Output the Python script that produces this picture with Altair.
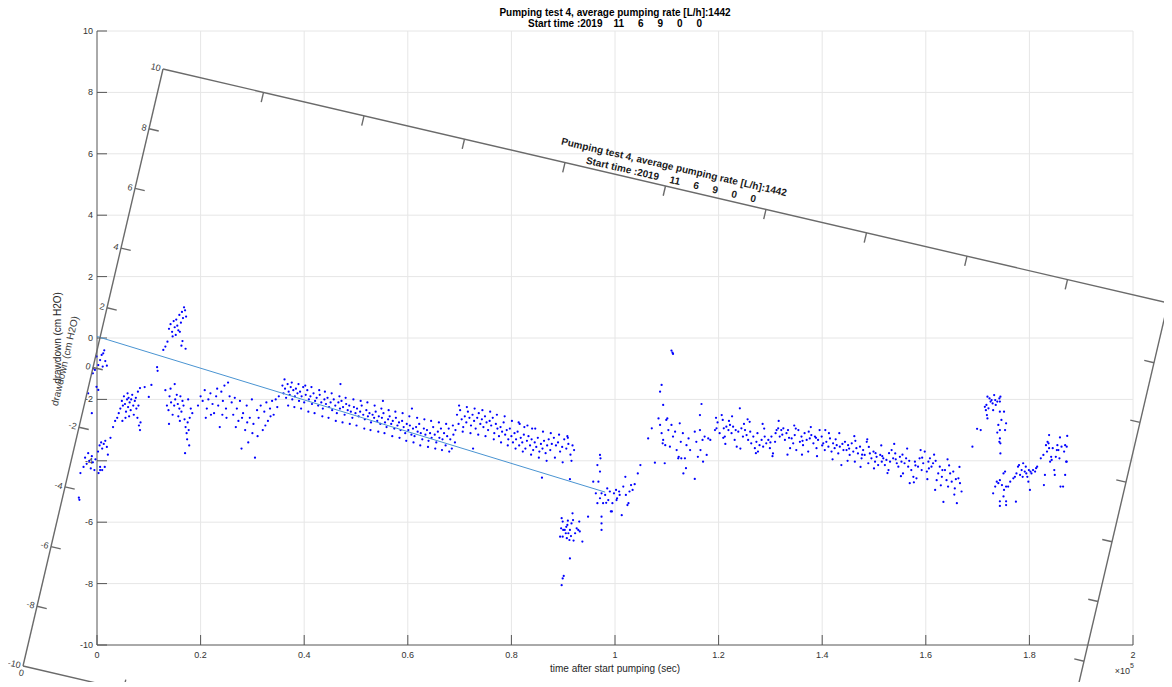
import altair as alt
import pandas as pd

# ---------------- data: time after start (kilo-seconds), drawdown (cm H2O) ----------------
seg_start = [(-3.5, -5.2), (-3.4, -5.27), (-3.2, -4.4), (-2.6, -4.2), (-2.3, -3.9), (-2.0, -4.1),
             (-1.7, -3.75), (-1.5, -4.0), (-1.2, -4.25), (-1.0, -3.85), (-0.8, -4.05), (-0.5, -4.3),
             (-0.3, -3.95), (0.2, -3.7), (0.5, -3.5), (0.8, -3.4), (1.0, -3.6), (1.3, -3.45),
             (1.6, -3.35), (1.9, -3.55), (2.1, -3.8), (0.3, -4.4), (0.6, -4.3), (1.5, -4.2),
             (0.6, -4.2), (1.0, -4.3), (-1.7, -1.8), (-1.0, -2.45), (-0.1, -1.59), (0.25, -1.69),
             (-0.1, -0.6), (0.6, -0.72), (0.9, -0.55), (-0.7, -0.99), (-0.4, -1.04), (0.25, -0.88),
             (1.1, -0.93), (-0.8, -1.15), (1.2, -0.5), (1.4, -0.4), (1.6, -0.75), (1.9, -0.9)]

seg_early = [(2.6, -3.25), (3.1, -2.9), (3.5, -2.7), (3.9, -2.6), (4.2, -2.45),
             (4.5, -2.3), (4.8, -2.05), (5.0, -2.2), (5.2, -1.9), (5.4, -2.15), (5.6, -2.4), (5.8, -2.0),
             (6.0, -2.25), (6.1, -1.95), (6.3, -2.1), (6.5, -2.35), (6.6, -2.0), (6.8, -1.85), (7.0, -2.2),
             (7.1, -2.5), (7.3, -2.05), (7.5, -1.95), (7.6, -2.3), (7.8, -2.6), (8.0, -2.2), (8.1, -2.85),
             (8.3, -3.0), (8.4, -2.75), (5.5, -2.6), (6.2, -2.55), (4.9, -2.7), (7.9, -1.75), (5.9, -1.8),
             (8.3, -1.63), (9.2, -1.6), (10.5, -1.53), (10.0, -1.92), (11.6, -0.95), (11.7, -1.07),
             (12.8, -0.39), (13.2, -0.28), (13.6, -0.12)]

seg_peak = [(13.9, 0.3), (14.2, 0.45), (14.5, 0.2), (14.8, 0.55), (15.0, 0.35), (15.3, 0.6), (15.5, 0.4),
            (15.7, 0.25), (15.9, 0.75), (16.2, 0.5), (16.4, 0.85), (16.6, 0.65), (16.8, 1.0), (17.0, 0.9),
            (17.2, 0.7), (15.2, 0.1), (16.0, 0.2), (16.5, -0.1), (17.1, -0.35), (16.3, -0.25), (14.6, 0.05),
            (13.2, -1.7), (13.5, -2.2), (13.8, -2.35), (14.0, -1.9), (14.3, -2.1), (14.6, -2.5), (14.9, -2.2),
            (15.1, -2.0), (15.4, -1.85), (15.6, -2.15), (15.9, -2.3), (16.1, -1.9), (16.3, -2.4), (16.5, -2.05),
            (16.7, -2.2), (16.9, -2.65), (17.1, -2.9), (17.3, -3.1), (17.5, -2.75), (17.7, -3.0), (17.9, -2.6),
            (18.1, -2.3), (15.0, -1.5), (16.0, -2.7), (13.9, -2.8), (17.0, -3.75), (17.6, -2.0), (18.4, -2.45),
            (15.7, -2.55), (14.2, -1.65), (17.4, -3.3), (17.8, -3.5)]

seg_wave = [(19.5, -2.2), (20.0, -1.9), (20.4, -2.05), (20.8, -1.7), (21.2, -2.3), (21.5, -2.0), (21.9, -1.8),
            (22.3, -2.15), (22.6, -2.45), (23.0, -1.9), (23.4, -2.2), (23.7, -2.9), (24.0, -1.75), (24.3, -2.05),
            (24.6, -1.55), (24.9, -2.3), (25.3, -1.45), (25.6, -1.9), (26.0, -2.1), (26.3, -2.5), (26.6, -1.95),
            (27.0, -2.3), (27.3, -2.7), (27.6, -2.05), (27.9, -3.6), (28.2, -2.45), (28.6, -3.0), (28.9, -2.2),
            (29.2, -3.4), (29.5, -2.6), (29.9, -2.0), (30.2, -2.8), (30.5, -3.9), (30.9, -2.35), (31.2, -2.6),
            (31.6, -2.2), (32.0, -3.0), (32.3, -2.4), (32.7, -2.1), (33.0, -2.7), (33.4, -2.3), (33.8, -2.05),
            (34.1, -2.5), (34.5, -2.0), (34.8, -2.25), (35.1, -1.9), (21.0, -2.6), (22.0, -2.5), (25.0, -2.6),
            (26.8, -2.9), (28.0, -2.6), (30.0, -3.1), (31.0, -3.2), (32.5, -2.85), (29.0, -2.75), (24.2, -2.5),
            (33.5, -2.55), (23.2, -1.65)]

seg_decline = [(35.8, -1.55), (36.0, -1.8), (36.3, -1.65), (36.5, -1.95), (36.8, -1.5), (37.0, -1.75),
               (37.2, -1.85), (37.4, -1.6), (37.7, -2.0), (37.9, -1.7), (38.2, -1.9), (38.4, -1.65), (38.7, -1.8),
               (39.0, -2.05), (39.2, -1.75), (39.5, -1.9), (39.8, -1.6), (40.0, -2.1), (40.3, -1.85), (40.6, -1.7),
               (40.9, -2.0), (41.2, -1.9), (41.5, -2.15), (41.8, -1.8), (42.1, -2.05), (42.4, -1.95), (42.7, -2.2),
               (43.0, -1.85), (43.3, -2.1), (43.6, -2.3), (43.9, -2.0), (44.2, -2.15), (44.5, -1.95), (44.8, -2.25),
               (45.1, -2.1), (45.4, -2.35), (45.7, -2.0), (46.0, -2.2), (46.3, -2.45), (46.6, -2.1), (46.9, -2.3),
               (47.2, -2.05), (47.5, -2.25), (47.8, -2.5), (48.1, -2.15), (48.4, -2.35), (48.7, -2.2), (49.0, -2.4),
               (49.3, -2.6), (49.6, -2.25), (49.9, -2.45), (50.2, -2.3), (50.5, -2.55), (50.8, -2.4), (51.1, -2.2),
               (51.4, -2.5), (51.7, -2.65), (52.0, -2.35), (52.3, -2.55), (52.6, -2.45), (52.9, -2.75), (53.2, -2.5),
               (53.5, -2.6), (53.8, -2.4), (54.1, -2.7), (54.4, -2.55), (54.7, -2.8), (55.0, -2.6), (55.3, -2.45),
               (55.6, -2.75), (55.9, -2.9), (56.2, -2.65), (56.5, -2.55), (56.8, -2.8), (57.1, -2.7), (57.4, -2.95),
               (57.7, -2.6), (58.0, -2.85), (58.3, -2.75), (58.6, -3.0), (58.9, -2.7), (59.2, -2.9), (59.5, -3.1),
               (59.8, -2.8), (60.1, -3.0), (60.4, -2.85), (60.7, -3.15), (61.0, -2.95), (61.3, -3.2), (61.6, -2.9),
               (61.9, -3.05), (62.2, -2.8), (62.5, -3.1), (62.8, -3.3), (63.1, -2.95), (63.4, -3.15), (63.7, -3.0),
               (64.0, -3.35), (64.3, -3.1), (64.6, -3.25), (64.9, -2.9), (65.2, -3.15), (65.5, -3.4), (65.8, -3.05),
               (66.1, -3.25), (66.4, -2.95), (66.7, -3.3), (67.0, -3.1), (67.3, -3.5), (67.6, -3.2), (67.9, -2.95),
               (68.2, -3.3), (68.5, -3.6), (68.8, -3.15), (69.1, -3.4)]

seg_decline_spread = [(36.2, -1.35), (36.9, -2.2), (37.6, -1.45), (38.1, -2.25), (38.9, -1.5), (39.4, -2.3),
                      (40.2, -1.55), (40.8, -2.4), (41.4, -1.6), (42.0, -2.45), (42.9, -1.7), (43.5, -2.55),
                      (44.0, -1.75), (44.7, -2.6), (45.3, -1.8), (46.1, -2.7), (46.8, -1.9), (47.4, -2.75),
                      (48.0, -1.95), (48.8, -2.8), (49.5, -2.0), (50.1, -2.85), (50.9, -2.05), (51.6, -2.95),
                      (52.2, -2.1), (52.8, -3.0), (53.6, -2.2), (54.3, -3.05), (54.9, -2.3), (55.5, -3.1),
                      (56.3, -2.35), (57.0, -3.2), (57.6, -2.4), (58.4, -3.25), (59.0, -2.45), (59.7, -3.35),
                      (60.3, -2.55), (61.1, -3.4), (61.8, -2.6), (62.4, -3.5), (63.2, -2.65), (63.9, -3.55),
                      (64.5, -2.7), (65.3, -3.6), (66.0, -2.75), (66.6, -3.65), (67.4, -2.8), (68.0, -3.7),
                      (68.7, -2.85), (69.2, -3.0), (47.0, -1.5), (55.2, -2.05), (60.8, -2.3)]

seg_plateau = [(69.5, -2.5), (69.8, -2.8), (70.1, -2.35), (70.4, -2.65), (70.7, -2.9), (71.0, -2.55), (71.3, -2.75),
               (71.6, -2.4), (71.9, -2.6), (72.2, -2.85), (72.5, -2.5), (72.8, -2.7), (73.1, -2.95), (73.4, -2.6),
               (73.7, -2.45), (74.0, -2.8), (74.3, -2.65), (74.6, -2.9), (74.9, -2.55), (75.2, -2.75), (75.5, -3.0),
               (75.8, -2.7), (76.1, -2.85), (76.4, -2.6), (76.7, -3.1), (77.0, -2.8), (77.3, -2.95), (77.6, -3.2),
               (77.9, -2.9), (78.2, -3.05), (78.5, -2.75), (78.8, -3.15), (79.1, -3.0), (79.4, -3.3), (79.7, -2.95),
               (80.0, -3.2), (80.3, -3.4), (80.6, -3.1), (80.9, -3.3), (81.2, -3.05), (81.5, -3.5), (81.8, -3.25),
               (82.1, -3.4), (82.4, -3.15), (82.7, -3.6), (83.0, -3.35), (83.3, -3.2), (83.6, -3.5), (83.9, -3.3),
               (84.2, -3.65), (84.5, -3.4), (84.8, -3.55), (85.1, -3.25), (85.4, -3.7), (85.7, -3.45), (86.0, -3.6),
               (86.3, -3.35), (86.6, -3.75), (86.9, -3.5), (87.2, -3.3), (87.5, -3.65), (87.8, -3.45), (88.2, -3.25),
               (88.6, -3.5), (89.0, -3.4), (89.4, -3.7), (89.8, -3.55), (90.2, -3.3), (90.6, -3.6), (91.0, -3.45),
               (91.4, -3.8), (91.8, -3.5), (92.1, -3.65), (81.6, -2.8), (82.5, -2.9), (84.0, -2.95), (72.6, -3.6),
               (85.9, -4.55), (91.3, -4.6), (90.9, -3.25)]

seg_plateau_spread = [(69.9, -2.2), (70.6, -3.05), (71.4, -2.25), (72.1, -3.1), (72.9, -2.3), (73.6, -3.15),
                      (74.4, -2.35), (75.0, -3.2), (75.9, -2.4), (76.6, -3.3), (77.2, -2.5), (78.0, -3.4),
                      (78.7, -2.55), (79.3, -3.5), (80.1, -2.7), (80.8, -3.6), (81.4, -2.75), (82.2, -3.7),
                      (83.1, -2.85), (83.8, -3.8), (84.6, -2.95), (85.3, -3.9), (86.1, -3.05), (86.8, -4.0),
                      (87.6, -3.1), (88.4, -3.9), (89.2, -3.15), (89.9, -4.05), (90.8, -3.2), (91.6, -4.0)]

seg_dip = [(89.7, -5.87), (89.9, -5.98), (90.0, -6.25), (89.9, -6.47), (90.3, -6.25), (90.5, -6.36), (90.7, -6.52),
           (91.0, -6.36), (91.2, -6.58), (91.3, -6.25), (91.6, -6.04), (91.8, -5.71), (91.9, -5.93), (92.3, -6.36),
           (92.9, -6.25), (93.1, -5.98), (93.2, -6.3), (93.7, -6.63), (89.4, -6.47), (90.8, -6.09), (91.3, -7.18),
           (89.9, -7.83), (90.1, -7.75), (89.7, -8.05), (90.6, -6.15), (91.5, -6.45), (92.6, -6.2), (89.6, -6.2),
           (92.0, -6.6), (90.9, -5.95)]

seg_recovery = [(94.8, -5.82), (95.8, -4.68), (96.6, -4.14), (97.1, -4.35), (97.1, -3.81), (97.2, -3.92),
                (96.3, -5.06), (96.6, -5.38), (97.1, -5.22), (97.4, -5.06), (97.7, -5.38), (98.1, -5.11),
                (98.5, -4.9), (98.7, -5.28), (99.0, -5.0), (99.2, -5.65), (99.5, -5.38), (99.8, -5.06),
                (100.2, -4.95), (100.4, -5.22), (100.8, -5.0), (100.9, -5.11), (101.3, -5.77), (101.6, -4.84),
                (102.0, -4.52), (102.1, -5.11), (102.4, -5.44), (102.8, -5.0), (103.1, -4.79), (103.4, -4.95),
                (103.8, -4.76), (104.4, -4.41), (104.9, -4.14), (97.4, -5.82), (97.4, -6.04), (97.4, -6.25),
                (96.8, -4.68), (98.3, -5.37), (99.4, -5.65), (100.3, -5.28), (102.6, -5.38)]

seg_jump = [(106.4, -3.27), (107.1, -2.94), (107.7, -4.06), (108.4, -2.62), (108.7, -2.83), (108.7, -1.75),
            (109.0, -1.53), (109.3, -2.18), (111.1, -0.48), (111.2, -0.52), (110.9, -0.41), (109.0, -3.1),
            (109.3, -3.32), (109.6, -4.08), (109.9, -2.67), (110.3, -3.0), (110.6, -3.54), (110.9, -2.83),
            (111.2, -3.21), (111.6, -3.05), (111.9, -3.65), (112.2, -3.92), (112.5, -2.78), (112.7, -3.38),
            (113.1, -3.1), (113.2, -4.41), (113.5, -3.92), (113.8, -3.49), (113.7, -4.24), (114.2, -3.27),
            (114.5, -3.65), (115.4, -4.59), (115.4, -3.05), (115.7, -3.38), (116.0, -3.87), (116.4, -2.51),
            (116.4, -3.0), (116.7, -2.15), (116.5, -3.65), (116.9, -3.32), (117.0, -4.03), (117.3, -3.21),
            (117.7, -3.81), (118.0, -3.27), (118.4, -3.32), (109.2, -3.43), (109.7, -3.49), (110.1, -2.62),
            (112.3, -3.87), (112.8, -3.92)]

seg_late = [(119.3, -3.0), (119.6, -2.94), (120.2, -3.1), (120.6, -2.51), (120.8, -2.67), (121.0, -2.94),
            (121.2, -3.21), (121.5, -2.89), (121.9, -3.0), (122.2, -2.83), (122.5, -3.1), (122.8, -2.89),
            (123.1, -3.32), (123.5, -3.54), (123.8, -3.05), (124.1, -2.29), (124.4, -2.94), (124.7, -3.21),
            (125.1, -3.0), (125.4, -3.16), (125.7, -3.32), (126.0, -2.73), (126.3, -3.43), (126.7, -3.21),
            (127.0, -3.59), (127.3, -3.38), (127.6, -3.7), (127.9, -3.49), (128.3, -3.32), (128.6, -3.54),
            (128.9, -3.21), (129.2, -3.43), (129.6, -3.32), (129.9, -3.59), (130.2, -3.21), (130.5, -3.76),
            (130.9, -3.38), (131.2, -3.0), (131.5, -2.94), (131.8, -3.21), (132.1, -3.0), (132.5, -2.94),
            (132.8, -3.32), (133.1, -3.1), (133.4, -3.0), (133.8, -3.59), (134.1, -3.27), (134.4, -3.43),
            (134.7, -3.16), (135.0, -3.65), (135.4, -3.0), (135.7, -3.38), (136.0, -3.21), (136.3, -3.49),
            (136.6, -3.1), (137.0, -3.32), (137.3, -3.7), (137.6, -3.27), (137.9, -3.16), (138.3, -3.43),
            (138.6, -3.21), (138.9, -3.59), (139.2, -3.32), (139.5, -3.0), (139.9, -3.21), (140.2, -3.43),
            (140.5, -3.65), (140.8, -3.38), (141.2, -3.54), (141.5, -3.27), (141.8, -3.7), (142.1, -3.43),
            (142.4, -3.59), (142.8, -3.49), (143.1, -3.76), (143.4, -3.54), (143.7, -4.14), (144.1, -3.65),
            (144.4, -3.38), (144.7, -3.65), (145.0, -3.49), (145.3, -3.81), (145.7, -3.43), (146.0, -3.7),
            (146.3, -4.03), (146.6, -3.59), (146.9, -3.76), (147.3, -3.54), (147.6, -3.92), (147.9, -3.65),
            (148.2, -3.81), (148.6, -3.38), (148.9, -4.08), (149.2, -3.76), (149.5, -3.92), (149.9, -3.7),
            (150.2, -4.03), (150.5, -3.87), (150.8, -4.14), (151.2, -3.81), (151.5, -4.03), (151.8, -3.92),
            (152.1, -4.14), (152.4, -3.97), (152.8, -4.3), (153.1, -4.03), (153.4, -3.65), (153.7, -3.92),
            (154.1, -3.76), (154.4, -4.08), (154.7, -4.19), (155.0, -3.87), (155.3, -4.03), (155.6, -4.41),
            (155.9, -4.08), (156.2, -3.92), (156.6, -4.19), (156.9, -4.73), (157.2, -4.3), (157.6, -4.52),
            (157.9, -4.03), (158.2, -4.57), (158.5, -4.19), (158.8, -3.92), (159.2, -4.3), (159.5, -4.08),
            (159.8, -3.7), (160.2, -4.35), (160.5, -4.03), (160.8, -3.92), (161.1, -4.19), (161.4, -4.08),
            (161.8, -4.95), (162.1, -4.63), (162.4, -4.41), (162.7, -4.19), (163.1, -4.52), (163.4, -5.34),
            (163.7, -4.3), (164.0, -4.63), (164.3, -4.84), (164.7, -4.41), (165.0, -4.68), (165.3, -4.35),
            (165.6, -4.9), (166.0, -5.38), (166.3, -4.57), (166.6, -4.73), (166.9, -5.0),
            (119.8, -2.75), (120.9, -3.25), (122.0, -2.7), (123.3, -3.0), (124.9, -2.8), (126.1, -3.05),
            (127.5, -3.1), (128.8, -2.95), (130.0, -3.4), (131.0, -3.1), (132.3, -3.15), (133.6, -3.25),
            (134.9, -2.95), (136.2, -3.35), (137.4, -3.05), (138.8, -3.25), (140.0, -3.5), (141.3, -3.1),
            (142.6, -3.3), (143.9, -3.45), (145.2, -3.6), (146.4, -3.35), (147.7, -3.8), (149.0, -3.55),
            (150.3, -3.75), (151.6, -3.85), (152.9, -3.75), (154.2, -3.95), (155.5, -3.8), (156.8, -4.0),
            (158.0, -4.15), (159.3, -3.9), (160.6, -4.25), (161.9, -4.0), (163.2, -4.3), (164.5, -4.15),
            (165.8, -4.6)]

seg_late_spread = [(119.5, -2.6), (121.3, -3.45), (122.6, -2.55), (124.2, -3.6), (125.6, -2.65), (127.2, -3.75),
                   (128.5, -2.8), (130.4, -3.85), (131.6, -2.7), (133.3, -3.8), (134.6, -2.85), (136.1, -3.8),
                   (137.8, -2.9), (139.0, -3.85), (140.6, -3.0), (142.0, -3.95), (143.3, -3.1), (144.9, -4.0),
                   (146.2, -3.2), (147.4, -4.2), (148.7, -3.3), (150.0, -4.25), (151.4, -3.5), (152.6, -4.4),
                   (153.9, -3.45), (155.2, -4.5), (156.4, -3.6), (157.7, -4.7), (159.0, -3.65), (160.3, -4.6),
                   (161.6, -3.8), (162.9, -4.8), (164.2, -3.95), (165.5, -5.1), (166.5, -4.2)]

seg_end = [(169.0, -3.54), (169.9, -2.96), (170.6, -3.0), (171.4, -2.24), (171.7, -2.18), (171.9, -1.91),
           (172.3, -1.97), (172.5, -2.07), (172.7, -2.02), (172.9, -2.13), (173.2, -1.86), (173.4, -2.02),
           (173.5, -2.18), (173.8, -2.07), (174.2, -1.97), (174.3, -2.07), (174.4, -1.91), (171.6, -2.35),
           (172.1, -2.29), (173.0, -2.35), (174.3, -2.4), (171.8, -2.51), (171.9, -2.62), (175.1, -2.4),
           (174.6, -2.67), (175.5, -2.78), (174.0, -2.83), (174.3, -3.0), (175.3, -3.0), (173.8, -3.08),
           (174.3, -3.27), (174.2, -3.38), (174.4, -3.43), (174.4, -3.76),
           (173.0, -5.06), (173.4, -4.84), (173.7, -4.68), (174.0, -4.73), (174.3, -4.63), (174.7, -4.79),
           (175.0, -4.41), (175.1, -4.95), (175.3, -4.35), (175.5, -4.84), (175.0, -5.16), (174.3, -5.32),
           (175.5, -5.32), (175.5, -5.44), (174.3, -5.47), (175.9, -4.84), (176.3, -4.68), (176.9, -4.57),
           (177.2, -4.52), (177.4, -5.33), (177.5, -4.41), (177.8, -4.19), (178.0, -4.14), (178.2, -4.46),
           (178.5, -4.3), (178.7, -4.52), (178.8, -4.08), (179.1, -4.35), (179.3, -4.19), (179.4, -4.41),
           (179.6, -4.52), (179.8, -4.68), (179.9, -4.3), (180.1, -4.95), (180.2, -4.35), (180.4, -4.41),
           (180.7, -4.3), (181.1, -4.35), (181.3, -4.24), (181.5, -4.19),
           (182.2, -3.92), (182.7, -3.81), (182.8, -4.79), (183.0, -4.46), (183.2, -3.49), (183.4, -3.7),
           (183.5, -3.38), (183.7, -3.43), (183.8, -3.16), (183.8, -3.59), (184.0, -4.03), (184.2, -3.87),
           (184.5, -3.59), (184.8, -4.3), (184.9, -4.46), (185.1, -3.87), (185.4, -3.49), (185.6, -3.65),
           (185.8, -3.92), (185.9, -3.24), (186.0, -4.84), (186.2, -3.54), (186.5, -4.84), (186.7, -3.7),
           (186.9, -3.49), (186.9, -4.46), (187.1, -4.03), (187.2, -3.54), (187.3, -3.19), (187.2, -4.03),
           (184.3, -3.97), (185.3, -3.65)]

fit_time_ks = [0.0, 98.1]
fit_drawdown = [0.05, -5.02]

x_tick_values = [0, 20000, 40000, 60000, 80000, 100000, 120000, 140000, 160000, 180000, 200000]
x_tick_labels = ["0", "0.2", "0.4", "0.6", "0.8", "1", "1.2", "1.4", "1.6", "1.8", "2"]
y_tick_values = [-10, -8, -6, -4, -2, 0, 2, 4, 6, 8, 10]
y_tick_labels = ["-10", "-8", "-6", "-4", "-2", "0", "2", "4", "6", "8", "10"]

NB = "\u00a0"
title_lines = ["Pumping test 4, average pumping rate [L/h]:1442",
               "Start time :2019" + NB * 4 + "11" + NB * 5 + "6" + NB * 5 + "9" + NB * 5 + "0" + NB * 5 + "0"]
x_title = "time after start pumping (sec)"
y_title = "drawdown (cm H2O)"

# ---------------- layout ----------------
W, H = 1036, 614
PAD_L, PAD_T, PAD_R, PAD_B = 89, 23, 31, 37
X0, Y0 = 8 + PAD_L, 8 + PAD_T          # page position of the plot origin
XMIN, XMAX, YMIN, YMAX = 0, 200000, -10, 10
FONT = "Liberation Sans"
AX = "#555555"
GRID = "#e6e6e6"

# rotated copy of the axes (lower-left corner and edge vectors, page pixels)
ROT_O = (23.0, 666.0)
ROT_EX = (1005.0, 234.0)
ROT_EY = (140.0, -597.0)
ROT_ANGLE = 13


def unit(v):
    n = (v[0] ** 2 + v[1] ** 2) ** 0.5
    return (v[0] / n, v[1] / n)


EXU, EYU = unit(ROT_EX), unit(ROT_EY)


def rot_px(u, v):
    return (ROT_O[0] + u * ROT_EX[0] + v * ROT_EY[0], ROT_O[1] + u * ROT_EX[1] + v * ROT_EY[1])


def to_data(p):
    px, py = p
    return ((px - X0) / W * (XMAX - XMIN) + XMIN, YMAX - (py - Y0) / H * (YMAX - YMIN))


def shift(p, d, k):
    return (p[0] + d[0] * k, p[1] + d[1] * k)


xs = alt.Scale(domain=[XMIN, XMAX], nice=False, zero=False)
ys = alt.Scale(domain=[YMIN, YMAX], nice=False, zero=False)


def X(f):
    return alt.X(f, type="quantitative", scale=xs, axis=None)


def Y(f):
    return alt.Y(f, type="quantitative", scale=ys, axis=None)


def rules(rows, color, width):
    return alt.Chart(pd.DataFrame(rows)).mark_rule(color=color, strokeWidth=width).encode(
        x=X("x1"), x2="x2", y=Y("y1"), y2="y2")


def texts(rows, **kw):
    return alt.Chart(pd.DataFrame(rows)).mark_text(font=FONT, **kw).encode(
        x=X("x"), y=Y("y"), text="label:N")


segments = [seg_start, seg_early, seg_peak, seg_wave, seg_decline, seg_decline_spread, seg_plateau,
            seg_plateau_spread, seg_dip, seg_recovery, seg_jump, seg_late, seg_late_spread, seg_end]
scatter_df = pd.DataFrame([{"t": t * 1000.0, "s": s} for seg in segments for (t, s) in seg])
fit_df = pd.DataFrame({"t": [v * 1000.0 for v in fit_time_ks], "s": fit_drawdown})

# ---- main axes drawn through the scales ----
grid = rules([{"x1": v, "x2": v, "y1": YMIN, "y2": YMAX} for v in x_tick_values[1:]] +
             [{"x1": XMIN, "x2": XMAX, "y1": v, "y2": v} for v in y_tick_values[1:]], GRID, 1)
domain = rules([{"x1": XMIN, "x2": XMIN, "y1": YMIN, "y2": YMAX},
                {"x1": XMIN, "x2": XMAX, "y1": YMIN, "y2": YMIN}], AX, 1)
tlx = 10 / W * (XMAX - XMIN)
tly = 10 / H * (YMAX - YMIN)
main_ticks = rules([{"x1": v, "x2": v, "y1": YMIN, "y2": YMIN + tly} for v in x_tick_values] +
                   [{"x1": XMIN, "x2": XMIN + tlx, "y1": v, "y2": v} for v in y_tick_values], AX, 1)
x_labels = texts([{"x": v, "y": YMIN, "label": l} for v, l in zip(x_tick_values, x_tick_labels)],
                 align="center", baseline="top", dy=6, fontSize=9, color="#333333")
y_labels = texts([{"x": XMIN, "y": v, "label": l} for v, l in zip(y_tick_values, y_tick_labels)],
                 align="right", baseline="middle", dx=-4, fontSize=9, color="#333333")
x_title_mark = texts([{"x": (XMIN + XMAX) / 2, "y": YMIN, "label": x_title}],
                     align="center", baseline="middle", dy=24, fontSize=10, color="#262626")
yt = to_data((X0 - 39, Y0 + H / 2))
y_title_mark = texts([{"x": yt[0], "y": yt[1], "label": y_title}],
                     align="center", baseline="middle", angle=270, fontSize=10, color="#262626")
exp_base = texts([{"x": XMAX, "y": YMIN, "label": "\u00d710"}],
                 align="right", baseline="middle", dx=-3, dy=26, fontSize=9, color="#333333")
exp_sup = texts([{"x": XMAX, "y": YMIN, "label": "5"}],
                align="left", baseline="middle", dx=-3, dy=21, fontSize=7, color="#333333")

scatter = alt.Chart(scatter_df).mark_circle(size=5, color="#0000ff", opacity=1).encode(
    x=X("t"), y=Y("s"))
fit = alt.Chart(fit_df).mark_line(color="#4a94d2", strokeWidth=1).encode(x=X("t"), y=Y("s"))

# ---- rotated copy: frame, ticks, labels, title ----
seg_rows = []
corners = [(0, 0), (0, 1), (1, 1), (1, 0), (0, 0)]
for a, b in zip(corners[:-1], corners[1:]):
    p, q = to_data(rot_px(*a)), to_data(rot_px(*b))
    seg_rows.append({"x1": p[0], "y1": p[1], "x2": q[0], "y2": q[1]})
for i in range(1, 10):
    f = i / 10
    for base, d in [(rot_px(0, f), EXU), (rot_px(1, f), (-EXU[0], -EXU[1])),
                    (rot_px(f, 1), (-EYU[0], -EYU[1])), (rot_px(f, 0), EYU)]:
        p, q = to_data(base), to_data(shift(base, d, 10))
        seg_rows.append({"x1": p[0], "y1": p[1], "x2": q[0], "y2": q[1]})
rot_frame = rules(seg_rows, "#6a6a6a", 1.4)

ylab_rows = []
for i, lab in enumerate(y_tick_labels):
    p = to_data(shift(rot_px(0, i / 10), EXU, -2.5))
    ylab_rows.append({"x": p[0], "y": p[1], "label": lab})
rot_ylabels = texts(ylab_rows, align="right", baseline="middle", angle=ROT_ANGLE, fontSize=9, color="#404040")

# only the first label of the rotated time axis lies inside the picture
p0 = to_data(shift(rot_px(0, 0), EYU, -3))
rot_xlabels = texts([{"x": p0[0], "y": p0[1], "label": x_tick_labels[0]}],
                    align="center", baseline="top", angle=ROT_ANGLE, fontSize=9, color="#404040")

tp = to_data(shift(shift(rot_px(0.5, 1), EYU, 20), EXU, 4))
rot_title = texts([{"x": tp[0], "y": tp[1], "label": "\n".join(title_lines)}],
                  align="center", baseline="middle", angle=ROT_ANGLE, fontSize=10, fontWeight="bold",
                  color="#1a1a1a", lineBreak="\n", lineHeight=13)

yp = to_data(shift(rot_px(0, 0.5), EXU, -28.5))
rot_ytitle = texts([{"x": yp[0], "y": yp[1], "label": y_title}],
                   align="center", baseline="middle", angle=270 + ROT_ANGLE, fontSize=10, color="#404040")

chart = alt.layer(
    grid, domain, main_ticks, x_labels, y_labels, x_title_mark, y_title_mark, exp_base, exp_sup,
    scatter, fit, rot_frame, rot_ylabels, rot_xlabels, rot_title, rot_ytitle
).properties(
    width=W, height=H,
    title=alt.TitleParams(text=title_lines, fontSize=10, fontWeight="bold", font=FONT, color="#000000",
                          anchor="middle", offset=-2, lineHeight=11),
    autosize=alt.AutoSizeParams(type="none"),
    padding={"left": PAD_L, "top": PAD_T, "right": PAD_R, "bottom": PAD_B},
    background="white",
).configure_view(stroke="transparent")

chart.save("out.html", embed_options={"renderer": "svg", "actions": False})
